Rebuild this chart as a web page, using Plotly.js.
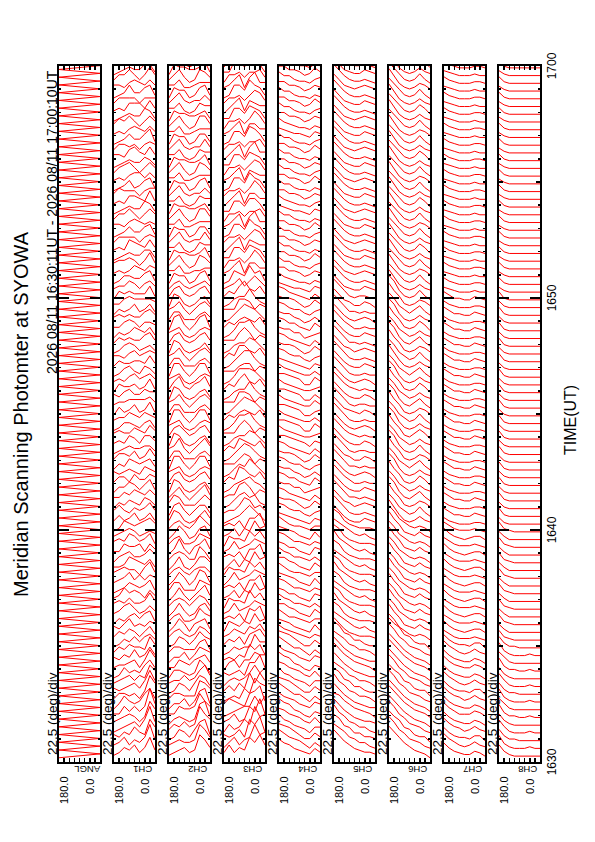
<!DOCTYPE html>
<html>
<head>
<meta charset="utf-8">
<script src="https://cdn.plot.ly/plotly-3.0.1.min.js"></script>
<style>
html,body{margin:0;padding:0;width:595px;height:842px;overflow:hidden;background:#fff}
#wrap{position:absolute;left:0;top:0;width:595px;height:842px;overflow:hidden}
#plot{position:absolute;left:0;top:0;width:842px;height:595px;transform-origin:0 0;transform:translateY(842px) rotate(-90deg)}
</style>
</head>
<body>
<div id="wrap"><div id="plot"></div></div>
<script>
// ---------------- data ----------------
const TITLE = 'Meridian Scanning Photomter at SYOWA';
const PERIOD_TEXT = '2026 08/11 16:30:11UT - 2026 08/11 17:00:10UT';
const PANEL_LABELS = ['ANGL','CH1','CH2','CH3','CH4','CH5','CH6','CH7','CH8'];
const TIME_TICK_VALS = [30,40,50,60];          // minutes after 16:00 UT
const TIME_TICK_TEXT = ['1630','1640','1650','1700'];
const ANGLE_POINTS = [0,22.5,45,67.5,90,112.5,135,157.5,180];   // scan angle (deg)
const SCAN_START_SEC = 11;     // 16:30:11
const SCAN_STEP_SEC = 20;      // one channel profile every 20 s
const ANGL_STEP_SEC = 10;      // one half-sweep of the mirror every 10 s
// scanner angle at each sweep turn-around (alternating direction)
const ANGL = [
180,0,180,0,180,0,180,0,180,0, 180,0,180,0,180,0,180,0,180,0,
180,0,180,0,180,0,180,0,180,0, 180,0,180,0,180,0,180,0,180,0,
180,0,180,0,180,0,180,0,180,0, 180,0,180,0,180,0,180,0,180,0,
180,0,180,0,180,0,180,0,180,0, 180,0,180,0,180,0,180,0,180,0,
180,0,180,0,180,0,180,0,180,0, 180,0,180,0,180,0,180,0,180,0,
180,0,180,0,180,0,180,0,180,0, 180,0,180,0,180,0,180,0,180,0,
180,0,180,0,180,0,180,0,180,0, 180,0,180,0,180,0,180,0,180,0,
180,0,180,0,180,0,180,0,180,0, 180,0,180,0,180,0,180,0,180,0,
180,0,180,0,180,0,180,0,180,0, 180,0,180,0,180,0,180,0,180,0,
180];
// intensity (relative units) for each 20-s profile, at ANGLE_POINTS
const CH1 = [
[3,8,4,2,5,3,4,2,1],[4,10,5,3,4,2,5,3,2],[6,9,3,4,6,3,4,2,3],[5,11,6,3,5,4,3,2,1],[7,10,4,2,4,5,4,3,2],
[6,12,5,3,5,3,5,2,2],[5,9,7,4,3,4,6,3,1],[8,11,5,2,4,3,4,4,2],[6,10,6,3,5,4,3,2,3],[7,9,4,5,3,5,4,3,2],
[5,8,6,3,4,3,5,2,1],[6,9,5,2,5,4,3,3,2],[4,7,4,3,6,3,4,2,3],[5,8,3,4,4,5,3,4,2],[4,6,5,3,5,3,4,2,1],
[3,6,4,2,4,5,3,4,2],[4,5,3,4,3,6,4,2,3],[2,6,5,3,5,4,2,3,1],[3,5,3,2,4,6,5,3,2],[4,7,4,3,3,5,3,4,3],
[3,5,2,4,5,4,6,3,2],[2,6,4,3,4,5,3,2,1],[4,5,3,5,3,6,4,3,2],[3,7,5,2,4,4,5,4,3],[2,5,3,4,5,6,3,2,2],
[4,6,4,3,3,5,4,3,1],[3,5,2,5,4,4,5,2,2],[2,6,4,3,5,6,3,4,3],[3,4,3,2,4,5,4,3,2],[4,6,5,4,3,4,5,2,1],
[2,5,3,2,5,3,2,4,2],[3,6,4,3,4,2,3,5,3],[2,4,5,2,3,4,2,3,1],[3,5,3,4,5,3,4,2,2],[2,6,4,2,4,5,3,3,1],
[4,5,3,3,5,2,4,4,2],[3,4,5,2,3,4,3,2,3],[2,5,4,3,4,5,2,3,1],[3,6,3,2,5,3,4,4,2],[2,4,4,3,3,4,3,2,1],
[3,5,5,2,4,5,2,3,2],[4,6,3,4,5,3,3,4,3],[2,5,4,2,3,4,4,2,1],[3,4,5,3,4,5,3,3,2],[2,6,3,2,5,3,2,4,1],
[3,5,4,4,4,4,3,3,2],[4,4,5,3,3,5,4,2,3],[2,6,3,2,4,3,3,4,1],[3,5,4,3,5,4,2,3,2],[2,4,5,2,3,5,4,2,1],
[3,6,3,4,4,3,3,4,2],[4,5,4,3,5,4,2,3,3],[2,4,3,2,4,5,4,2,1],[3,6,5,3,3,4,3,4,2],[2,5,3,4,5,3,2,3,1],
[3,4,4,2,4,5,4,2,2],[4,6,5,3,3,4,3,4,3],[2,5,3,2,5,3,2,3,1],[3,4,4,4,4,5,4,2,2],[2,6,3,3,3,4,3,4,1],
[3,5,4,2,4,5,3,3,2],[2,6,5,3,3,4,4,2,1],[4,5,3,4,5,3,2,3,2],[3,7,4,2,4,5,4,4,3],[2,5,5,3,3,4,3,2,1],
[3,6,3,4,5,6,2,3,2],[4,5,4,2,4,4,4,4,2],[2,6,5,3,3,5,3,2,1],[3,4,3,4,5,4,2,3,3],[4,6,4,2,4,6,4,4,2],
[2,5,6,3,3,4,3,2,1],[3,7,3,4,5,5,2,3,2],[5,5,4,2,4,4,4,5,3],[2,6,5,3,2,5,3,2,1],[3,5,3,5,5,4,2,3,2],
[4,6,4,2,4,6,5,4,2],[2,4,5,3,3,4,3,2,1],[3,6,3,4,6,5,2,3,3],[4,5,4,2,4,3,4,4,2],[2,7,5,3,3,5,3,2,1],
[3,5,3,4,5,4,2,3,2],[4,6,4,2,4,6,4,5,3],[2,5,6,3,3,4,3,2,1],[3,6,3,5,5,5,2,3,2],[4,4,4,2,4,4,4,4,2],
[2,6,5,3,3,6,3,2,1],[3,5,3,4,5,4,2,3,3],[4,7,4,2,4,6,4,4,2],[2,5,5,3,3,4,3,2,1],[3,6,3,4,5,5,2,3,2]];
const CH2 = [
[4,7,9,3,2,4,3,2,1],[5,8,10,4,3,3,4,3,2],[3,9,8,5,2,4,5,2,1],[6,8,11,4,3,5,3,4,2],[4,10,9,3,2,3,4,3,1],
[5,7,10,5,4,4,5,2,2],[3,9,8,4,2,5,3,3,1],[6,8,9,3,3,3,4,4,2],[4,7,8,5,2,4,5,2,1],[5,9,7,4,3,5,3,3,2],
[3,6,8,3,2,3,4,4,1],[4,7,6,5,3,4,5,2,2],[5,6,7,4,2,5,3,3,1],[3,7,6,3,3,3,4,4,2],[4,5,7,4,2,4,5,2,1],
[3,5,6,3,2,3,5,4,2],[2,6,5,4,1,4,6,3,1],[4,5,7,3,2,2,5,4,2],[3,6,5,2,1,3,6,3,1],[2,5,6,4,2,4,5,4,2],
[3,7,5,3,1,3,6,3,1],[4,5,6,2,2,2,5,5,2],[2,6,7,3,1,4,6,3,1],[3,5,5,4,2,3,5,4,2],[4,6,6,3,1,2,6,3,1],
[2,5,7,2,2,4,5,4,2],[3,7,5,4,1,3,7,3,1],[4,5,6,3,2,2,5,4,2],[2,6,5,2,1,4,6,3,1],[3,5,7,4,2,3,5,4,2],
[3,6,4,2,1,2,5,6,2],[2,5,5,3,1,3,6,5,1],[4,6,4,2,2,2,5,6,3],[3,7,5,3,1,3,6,4,2],[2,5,4,2,1,2,5,6,1],
[3,6,5,3,2,3,6,5,2],[4,5,4,2,1,2,5,4,3],[2,6,6,3,1,3,6,6,1],[3,5,4,2,2,2,5,5,2],[4,7,5,3,1,3,7,4,3],
[2,5,4,2,1,2,5,6,1],[3,6,5,3,2,4,6,5,2],[4,5,4,2,1,2,5,4,3],[2,6,6,3,1,3,6,6,1],[3,5,4,2,2,2,5,5,2],
[4,6,5,3,1,3,6,4,3],[2,5,4,2,1,2,5,6,1],[3,7,5,4,2,3,7,5,2],[4,5,4,2,1,2,5,4,3],[2,6,6,3,1,3,6,6,1],
[3,5,4,2,2,2,5,5,2],[4,6,5,3,1,3,6,4,3],[2,5,3,2,1,2,5,6,1],[3,6,5,3,2,3,6,5,2],[4,5,4,2,1,2,5,4,3],
[2,7,6,3,1,3,7,6,1],[3,5,4,2,2,2,5,5,2],[4,6,5,3,1,3,6,4,3],[2,5,4,2,1,2,5,6,1],[3,6,5,3,2,3,6,5,2],
[3,5,4,3,2,3,5,4,2],[2,6,5,2,1,4,4,5,1],[4,4,3,3,2,2,5,3,3],[3,5,6,2,1,3,6,4,2],[2,6,4,3,3,4,4,5,1],
[4,4,5,2,1,2,5,3,3],[3,6,3,3,2,3,6,4,2],[2,5,5,2,1,4,4,5,1],[4,4,4,3,2,2,5,3,3],[3,6,6,2,1,3,6,4,2],
[2,5,4,3,3,4,4,5,1],[4,4,5,2,1,2,5,3,3],[3,5,3,3,2,3,6,4,2],[2,6,5,2,1,4,4,5,1],[4,4,4,3,2,2,5,3,3],
[3,5,6,2,1,3,6,4,2],[2,6,4,3,3,4,4,5,1],[4,4,5,2,1,2,5,3,3],[3,6,3,3,2,3,6,4,2],[2,5,5,2,1,4,4,5,1],
[4,4,4,3,2,2,5,3,3],[3,6,6,2,1,3,6,4,2],[2,5,4,3,3,4,4,5,1],[4,4,5,2,1,2,5,3,3],[3,5,3,3,2,3,6,4,2],
[2,6,5,2,1,4,4,5,1],[4,4,4,3,2,2,5,3,3],[3,5,6,2,1,3,6,4,2],[2,6,4,3,3,4,4,5,1],[4,4,5,2,1,2,5,3,3]];
const CH3 = [
[5,9,6,8,3,4,2,5,2],[7,6,10,5,4,2,5,3,1],[4,10,7,9,2,5,3,2,3],[8,7,11,4,6,3,2,4,1],[5,11,6,8,3,2,5,3,2],
[9,6,9,5,5,4,3,2,1],[4,10,8,7,2,3,4,5,3],[7,8,10,4,6,2,3,2,1],[6,9,5,9,3,5,2,4,2],[8,6,9,6,4,3,4,3,1],
[5,10,7,7,2,4,3,2,3],[7,7,8,5,5,2,5,4,1],[4,8,6,8,3,4,2,3,2],[6,6,9,4,4,3,4,2,1],[5,8,7,6,2,5,3,4,2],
[4,7,5,6,3,4,5,3,2],[6,5,8,4,5,3,4,5,1],[3,8,6,7,2,5,3,4,3],[5,6,7,5,4,3,6,3,2],[4,7,5,8,3,4,4,5,1],
[6,5,8,4,5,2,5,3,2],[3,8,6,6,2,5,3,4,3],[5,6,7,5,4,3,6,3,1],[4,7,5,7,3,4,4,5,2],[6,5,8,4,5,2,5,3,1],
[3,8,6,6,2,5,3,4,3],[5,6,7,5,4,3,6,3,2],[4,7,5,7,3,4,4,5,1],[6,5,8,4,5,2,5,3,2],[3,8,6,6,2,5,3,4,3],
[2,4,6,8,6,4,3,2,1],[3,5,4,7,8,5,3,3,2],[2,3,6,5,7,6,4,2,1],[4,5,3,6,8,7,3,3,2],[2,4,5,7,6,5,4,2,1],
[3,6,4,5,7,8,3,4,2],[2,4,6,8,5,6,4,2,1],[4,5,3,6,7,5,3,3,3],[2,3,5,7,8,6,4,2,1],[3,6,4,5,6,7,3,4,2],
[2,4,6,7,5,5,4,2,1],[4,5,3,6,8,6,3,3,3],[2,3,5,8,7,7,4,2,1],[3,6,4,5,6,5,3,4,2],[2,4,6,7,8,6,4,2,1],
[4,5,3,6,7,7,3,3,3],[2,3,5,8,5,5,4,2,1],[3,6,4,5,8,6,3,4,2],[2,4,6,7,7,7,4,2,1],[4,5,3,6,6,5,3,3,3],
[2,3,5,8,8,6,4,2,1],[3,6,4,5,7,7,3,4,2],[2,4,6,7,5,5,4,2,1],[4,5,3,6,8,6,3,3,3],[2,3,5,8,7,7,4,2,1],
[3,6,4,5,6,5,3,4,2],[2,4,6,7,8,6,4,2,1],[4,5,3,6,7,7,3,3,3],[2,3,5,8,5,5,4,2,1],[3,6,4,5,8,6,3,4,2],
[3,5,7,5,3,6,4,3,2],[2,6,5,8,4,5,6,2,1],[4,4,6,6,2,7,5,3,2],[3,6,8,5,3,5,4,4,1],[2,5,6,7,4,6,6,2,2],
[4,4,5,6,2,7,5,3,1],[3,6,7,5,3,5,4,4,2],[2,5,6,8,4,6,6,2,1],[4,4,8,6,2,7,5,3,2],[3,6,5,5,3,5,4,4,1],
[2,5,7,7,4,6,6,2,2],[4,4,6,6,2,7,5,3,1],[3,6,8,5,3,5,4,4,2],[2,5,6,8,4,6,6,2,1],[4,4,5,6,2,7,5,3,2],
[3,6,7,5,3,5,4,4,1],[2,5,6,7,4,6,6,2,2],[4,4,8,6,2,7,5,3,1],[3,6,5,5,3,5,4,4,2],[2,5,7,8,4,6,6,2,1],
[4,4,6,6,2,7,5,3,2],[3,6,8,5,3,5,4,4,1],[2,5,6,7,4,6,6,2,2],[4,4,5,6,2,7,5,3,1],[3,6,7,5,3,5,4,4,2],
[2,5,6,8,4,6,6,2,1],[4,4,8,6,2,7,5,3,2],[3,6,5,5,3,5,4,4,1],[2,5,7,7,4,6,6,2,2],[4,4,6,6,2,7,5,3,1]];
const CH4 = [
[3,5,2,3,4,5,7,8,10],[2,4,1,3,5,6,7,9,11],[3,5,2,2,4,6,8,9,10],[4,4,1,3,4,5,7,8,11],[2,5,2,3,5,6,7,9,10],
[3,4,1,2,4,5,8,9,11],[4,5,2,3,4,6,7,8,10],[2,4,1,3,5,5,7,9,11],[3,5,2,2,4,6,8,9,10],[4,4,1,3,4,5,7,8,11],
[2,5,2,3,5,6,7,9,10],[3,4,1,2,4,5,8,9,11],[4,5,2,3,4,6,7,8,10],[2,4,1,3,5,5,7,9,11],[3,5,2,2,4,6,8,9,10],
[3,4,2,3,4,5,6,7,9],[2,5,1,2,3,4,6,7,8],[4,4,2,3,4,5,5,7,9],[3,5,1,2,3,5,6,8,8],[2,4,2,3,4,4,6,7,9],
[4,5,1,2,3,5,5,7,8],[3,4,2,3,4,4,6,8,9],[2,5,1,2,3,5,6,7,8],[4,4,2,3,4,4,5,7,9],[3,5,1,2,3,5,6,8,8],
[2,4,2,3,4,4,6,7,9],[4,5,1,2,3,5,5,7,8],[3,4,2,3,4,4,6,8,9],[2,5,1,2,3,5,6,7,8],[4,4,2,3,4,4,5,7,9],
[3,4,1,2,3,4,5,6,7],[4,3,1,2,4,4,5,7,8],[3,5,2,1,3,5,6,6,7],[2,4,1,2,3,4,5,7,8],[4,3,2,1,4,4,6,6,7],
[3,5,1,2,3,5,5,7,8],[2,4,2,1,3,4,6,6,7],[4,3,1,2,4,4,5,7,8],[3,5,2,1,3,5,6,6,7],[2,4,1,2,3,4,5,7,8],
[3,4,1,3,4,5,6,7,7],[4,3,2,2,3,4,5,6,8],[3,5,1,1,4,5,6,7,7],[2,4,2,2,3,4,5,6,8],[4,3,1,1,4,5,6,7,7],
[3,5,2,2,3,4,5,6,8],[2,4,1,1,4,5,6,7,7],[4,3,2,2,3,4,5,6,8],[3,5,1,1,4,5,6,7,7],[2,4,2,2,3,4,5,6,8],
[3,4,1,2,3,4,5,6,7],[4,3,1,2,4,4,5,7,8],[3,5,2,1,3,5,6,6,7],[2,4,1,2,3,4,5,7,8],[4,3,2,1,4,4,6,6,7],
[3,5,1,2,3,5,5,7,8],[2,4,2,1,3,4,6,6,7],[4,3,1,2,4,4,5,7,8],[3,5,2,1,3,5,6,6,7],[2,4,1,2,3,4,5,7,8],
[3,4,1,2,3,3,4,5,6],[2,3,1,2,2,3,4,5,7],[3,4,2,1,3,4,4,6,6],[4,3,1,2,2,3,5,5,7],[3,5,2,1,3,4,4,6,6],
[2,3,1,2,2,3,5,5,7],[3,4,2,1,3,4,4,6,6],[4,3,1,2,2,3,5,5,7],[3,5,2,1,3,4,4,6,6],[2,3,1,2,2,3,5,5,7],
[3,4,1,2,3,3,4,5,6],[4,3,1,2,2,3,4,5,7],[3,4,2,1,3,4,4,6,6],[2,3,1,2,2,3,5,5,7],[3,5,2,1,3,4,4,6,6],
[4,3,1,2,2,3,5,5,7],[3,4,2,1,3,4,4,6,6],[2,3,1,2,2,3,5,5,7],[3,5,2,1,3,4,4,6,6],[4,3,1,2,2,3,5,5,7],
[3,4,1,2,3,3,4,5,6],[2,3,1,2,2,3,4,5,7],[3,4,2,1,3,4,4,6,6],[4,3,1,2,2,3,5,5,7],[3,5,2,1,3,4,4,6,6],
[2,3,1,2,2,3,5,5,7],[3,4,2,1,3,4,4,6,6],[4,3,1,2,2,3,5,5,7],[3,5,2,1,3,4,4,6,6],[2,3,1,2,2,3,5,5,7]];
const CH5 = [
[2,3,3,4,5,7,9,12,15],[1,2,4,4,6,7,10,12,14],[2,3,3,5,5,8,9,13,15],[1,2,4,4,6,7,10,12,16],[2,3,3,4,5,7,9,12,15],
[1,3,4,5,6,8,10,13,14],[2,2,3,4,5,7,9,12,15],[1,3,4,4,6,7,10,12,16],[2,2,3,5,5,8,9,13,15],[1,3,4,4,6,7,10,12,14],
[2,2,3,4,5,7,9,12,15],[1,3,4,5,6,8,10,13,16],[2,2,3,4,5,7,9,12,15],[1,3,4,4,6,7,10,12,14],[2,2,3,5,5,8,9,13,15],
[2,3,3,3,4,5,7,10,13],[1,2,4,3,4,6,8,10,12],[2,3,3,3,4,5,7,11,13],[1,2,4,3,4,6,8,10,14],[2,3,3,3,4,5,7,11,13],
[1,2,4,3,4,6,8,10,12],[2,3,3,3,4,5,7,11,13],[1,2,4,3,4,6,8,10,14],[2,3,3,3,4,5,7,11,13],[1,2,4,3,4,6,8,10,12],
[2,3,3,3,4,5,7,11,13],[1,2,4,3,4,6,8,10,14],[2,3,3,3,4,5,7,11,13],[1,2,4,3,4,6,8,10,12],[2,3,3,3,4,5,7,11,13],
[2,3,4,2,2,3,5,8,11],[1,2,3,2,2,3,6,9,12],[2,3,4,3,2,4,5,8,11],[1,2,3,2,3,3,6,9,12],[2,3,4,2,2,3,5,8,11],
[2,2,3,2,2,4,6,9,12],[1,3,4,3,2,3,5,8,11],[2,2,3,2,3,3,6,9,12],[1,3,4,2,2,4,5,8,11],[2,2,3,3,2,3,6,9,12],
[1,3,4,2,2,3,5,8,11],[2,2,3,2,3,4,6,9,12],[1,3,4,3,2,3,5,8,11],[2,2,3,2,2,3,6,9,12],[1,3,4,2,3,4,5,8,11],
[2,2,3,3,2,3,6,9,12],[1,3,4,2,2,3,5,8,11],[2,2,3,2,3,4,6,9,12],[1,3,4,3,2,3,5,8,11],[2,2,3,2,2,3,6,9,12],
[2,3,4,2,2,3,5,8,11],[1,2,3,2,2,3,6,9,12],[2,3,4,3,2,4,5,8,11],[1,2,3,2,3,3,6,9,12],[2,3,4,2,2,3,5,8,11],
[2,2,3,2,2,4,6,9,12],[1,3,4,3,2,3,5,8,11],[2,2,3,2,3,3,6,9,12],[1,3,4,2,2,4,5,8,11],[2,2,3,3,2,3,6,9,12],
[2,3,4,2,2,3,4,7,10],[1,2,3,2,2,3,5,8,11],[2,3,4,3,2,3,4,7,10],[1,2,3,2,2,3,5,8,11],[2,3,4,2,2,3,4,7,10],
[1,2,3,2,2,3,5,8,11],[2,3,4,3,2,3,4,7,10],[1,2,3,2,2,3,5,8,11],[2,3,4,2,2,3,4,7,10],[1,2,3,2,2,3,5,8,11],
[2,3,4,3,2,3,4,7,10],[1,2,3,2,2,3,5,8,11],[2,3,4,2,2,3,4,7,10],[1,2,3,2,2,3,5,8,11],[2,3,4,3,2,3,4,7,10],
[1,2,3,2,2,3,5,8,11],[2,3,4,2,2,3,4,7,10],[1,2,3,2,2,3,5,8,11],[2,3,4,3,2,3,4,7,10],[1,2,3,2,2,3,5,8,11],
[2,3,4,2,2,3,4,7,10],[1,2,3,2,2,3,5,8,11],[2,3,4,3,2,3,4,7,10],[1,2,3,2,2,3,5,8,11],[2,3,4,2,2,3,4,7,10],
[1,2,3,2,2,3,5,8,11],[2,3,4,3,2,3,4,7,10],[1,2,3,2,2,3,5,8,11],[2,3,4,2,2,3,4,7,10],[1,2,3,2,2,3,5,8,11]];
const CH6 = [
[0,2,3,4,6,8,11,14,17],[1,2,4,5,6,9,11,15,18],[0,3,3,4,7,8,12,14,17],[1,2,4,5,6,9,11,15,18],[0,2,3,4,6,8,11,14,17],
[1,3,4,5,7,9,12,15,18],[0,2,3,4,6,8,11,14,17],[1,2,4,5,6,9,11,15,18],[0,3,3,4,7,8,12,14,17],[1,2,4,5,6,9,11,15,18],
[0,2,3,4,6,8,11,14,17],[1,3,4,5,7,9,12,15,18],[0,2,3,4,6,8,11,14,17],[1,2,4,5,6,9,11,15,18],[0,3,3,4,7,8,12,14,17],
[1,3,4,3,4,6,8,12,15],[2,3,5,3,4,5,9,12,16],[1,3,4,3,4,6,8,12,15],[2,3,5,3,4,5,9,12,16],[1,3,4,3,4,6,8,12,15],
[2,3,5,3,4,5,9,12,16],[1,3,4,3,4,6,8,12,15],[2,3,5,3,4,5,9,12,16],[1,3,4,3,4,6,8,12,15],[2,3,5,3,4,5,9,12,16],
[1,3,4,3,4,6,8,12,15],[2,3,5,3,4,5,9,12,16],[1,3,4,3,4,6,8,12,15],[2,3,5,3,4,5,9,12,16],[1,3,4,3,4,6,8,12,15],
[2,3,5,3,2,3,6,10,14],[1,3,6,3,2,4,6,10,13],[2,4,5,3,2,3,7,10,14],[1,3,6,4,2,3,6,11,14],[2,3,5,3,2,4,6,10,13],
[1,4,6,3,2,3,7,10,14],[2,3,5,3,2,3,6,11,14],[1,3,6,4,2,4,6,10,13],[2,4,5,3,2,3,7,10,14],[1,3,6,3,2,3,6,11,14],
[2,3,5,3,2,4,6,10,13],[1,4,6,4,2,3,7,10,14],[2,3,5,3,2,3,6,11,14],[1,3,6,3,2,4,6,10,13],[2,4,5,3,2,3,7,10,14],
[1,3,6,4,2,3,6,11,14],[2,3,5,3,2,4,6,10,13],[1,4,6,3,2,3,7,10,14],[2,3,5,3,2,3,6,11,14],[1,3,6,4,2,4,6,10,13],
[2,3,5,3,2,3,6,10,14],[1,3,6,3,2,4,6,10,13],[2,4,5,3,2,3,7,10,14],[1,3,6,4,2,3,6,11,14],[2,3,5,3,2,4,6,10,13],
[1,4,6,3,2,3,7,10,14],[2,3,5,3,2,3,6,11,14],[1,3,6,4,2,4,6,10,13],[2,4,5,3,2,3,7,10,14],[1,3,6,3,2,3,6,11,14],
[2,3,5,3,2,3,5,9,13],[1,3,6,3,2,3,6,9,12],[2,4,5,3,2,3,5,9,13],[1,3,6,3,2,3,6,9,12],[2,3,5,3,2,3,5,9,13],
[1,4,6,3,2,3,6,9,12],[2,3,5,3,2,3,5,9,13],[1,3,6,3,2,3,6,9,12],[2,4,5,3,2,3,5,9,13],[1,3,6,3,2,3,6,9,12],
[2,3,5,3,2,3,5,9,13],[1,4,6,3,2,3,6,9,12],[2,3,5,3,2,3,5,9,13],[1,3,6,3,2,3,6,9,12],[2,4,5,3,2,3,5,9,13],
[1,3,6,3,2,3,6,9,12],[2,3,5,3,2,3,5,9,13],[1,4,6,3,2,3,6,9,12],[2,3,5,3,2,3,5,9,13],[1,3,6,3,2,3,6,9,12],
[2,4,5,3,2,3,5,9,13],[1,3,6,3,2,3,6,9,12],[2,3,5,3,2,3,5,9,13],[1,4,6,3,2,3,6,9,12],[2,3,5,3,2,3,5,9,13],
[1,3,6,3,2,3,6,9,12],[2,4,5,3,2,3,5,9,13],[1,3,6,3,2,3,6,9,12],[2,3,5,3,2,3,5,9,13],[1,4,6,3,2,3,6,9,12]];
const CH7 = [
[1,3,4,2,2,3,4,6,9],[2,3,5,3,2,3,5,7,10],[1,4,4,2,3,3,4,6,9],[2,3,5,3,2,4,5,7,10],[1,3,4,2,2,3,4,6,9],
[2,4,5,3,3,3,5,7,10],[1,3,4,2,2,3,4,6,9],[2,3,5,3,2,4,5,7,10],[1,4,4,2,3,3,4,6,9],[2,3,5,3,2,3,5,7,10],
[1,3,4,2,2,3,4,6,9],[2,4,5,3,3,4,5,7,10],[1,3,4,2,2,3,4,6,9],[2,3,5,3,2,3,5,7,10],[1,4,4,2,3,3,4,6,9],
[1,2,3,2,2,2,3,5,7],[1,3,3,2,1,2,3,5,8],[1,2,3,2,2,2,3,5,7],[1,3,3,2,1,2,3,5,8],[1,2,3,2,2,2,3,5,7],
[1,3,3,2,1,2,3,5,8],[1,2,3,2,2,2,3,5,7],[1,3,3,2,1,2,3,5,8],[1,2,3,2,2,2,3,5,7],[1,3,3,2,1,2,3,5,8],
[1,2,3,2,2,2,3,5,7],[1,3,3,2,1,2,3,5,8],[1,2,3,2,2,2,3,5,7],[1,3,3,2,1,2,3,5,8],[1,2,3,2,2,2,3,5,7],
[1,2,2,1,1,1,2,3,5],[1,2,3,1,1,2,2,4,6],[1,2,2,1,1,1,2,3,5],[1,2,3,1,1,2,2,4,6],[1,2,2,1,1,1,2,3,5],
[1,2,3,1,1,2,2,4,6],[1,2,2,1,1,1,2,3,5],[1,2,3,1,1,2,2,4,6],[1,2,2,1,1,1,2,3,5],[1,2,3,1,1,2,2,4,6],
[1,2,2,1,1,1,2,3,5],[1,2,3,1,1,2,2,4,6],[1,2,2,1,1,1,2,3,5],[1,2,3,1,1,2,2,4,6],[1,2,2,1,1,1,2,3,5],
[1,2,3,1,1,2,2,4,6],[1,2,2,1,1,1,2,3,5],[1,2,3,1,1,2,2,4,6],[1,2,2,1,1,1,2,3,5],[1,2,3,1,1,2,2,4,6],
[1,2,2,1,1,1,2,3,5],[1,2,3,1,1,2,2,4,6],[1,2,2,1,1,1,2,3,5],[1,2,3,1,1,2,2,4,6],[1,2,2,1,1,1,2,3,5],
[1,2,3,1,1,2,2,4,6],[1,2,2,1,1,1,2,3,5],[1,2,3,1,1,2,2,4,6],[1,2,2,1,1,1,2,3,5],[1,2,3,1,1,2,2,4,6],
[1,1,2,1,1,1,2,3,4],[1,2,2,1,1,1,2,3,5],[1,1,2,1,1,1,2,3,4],[1,2,2,1,1,1,2,3,5],[1,1,2,1,1,1,2,3,4],
[1,2,2,1,1,1,2,3,5],[1,1,2,1,1,1,2,3,4],[1,2,2,1,1,1,2,3,5],[1,1,2,1,1,1,2,3,4],[1,2,2,1,1,1,2,3,5],
[1,1,2,1,1,1,2,3,4],[1,2,2,1,1,1,2,3,5],[1,1,2,1,1,1,2,3,4],[1,2,2,1,1,1,2,3,5],[1,1,2,1,1,1,2,3,4],
[1,2,2,1,1,1,2,3,5],[1,1,2,1,1,1,2,3,4],[1,2,2,1,1,1,2,3,5],[1,1,2,1,1,1,2,3,4],[1,2,2,1,1,1,2,3,5],
[1,1,2,1,1,1,2,3,4],[1,2,2,1,1,1,2,3,5],[1,1,2,1,1,1,2,3,4],[1,2,2,1,1,1,2,3,5],[1,1,2,1,1,1,2,3,4],
[1,2,2,1,1,1,2,3,5],[1,1,2,1,1,1,2,3,4],[1,2,2,1,1,1,2,3,5],[1,1,2,1,1,1,2,3,4],[1,2,2,1,1,1,2,3,5]];
const CH8 = [
[1,1,1,1,1,1,2,4,8],[1,1,2,1,1,1,2,4,9],[1,1,1,1,1,2,2,4,8],[1,1,2,1,1,1,2,5,9],[1,1,1,1,1,1,2,4,8],
[1,1,2,1,1,2,2,4,9],[1,1,1,1,1,1,2,5,8],[1,1,2,1,1,1,2,4,9],[1,1,1,1,1,2,2,4,8],[1,1,2,1,1,1,2,5,9],
[1,1,1,1,1,1,2,4,8],[1,1,2,1,1,2,2,4,9],[1,1,1,1,1,1,2,5,8],[1,1,2,1,1,1,2,4,9],[1,1,1,1,1,2,2,4,8],
[1,1,1,1,1,1,2,3,7],[1,1,1,1,1,1,1,3,6],[1,1,1,1,1,1,2,3,7],[1,1,1,1,1,1,1,3,6],[1,1,1,1,1,1,2,3,7],
[1,1,1,1,1,1,1,3,6],[1,1,1,1,1,1,2,3,7],[1,1,1,1,1,1,1,3,6],[1,1,1,1,1,1,2,3,7],[1,1,1,1,1,1,1,3,6],
[1,1,1,1,1,1,2,3,7],[1,1,1,1,1,1,1,3,6],[1,1,1,1,1,1,2,3,7],[1,1,1,1,1,1,1,3,6],[1,1,1,1,1,1,2,3,7],
[1,1,1,1,1,1,1,2,5],[1,1,1,1,1,1,1,2,6],[1,1,1,1,1,1,1,2,5],[1,1,1,1,1,1,1,2,6],[1,1,1,1,1,1,1,2,5],
[1,1,1,1,1,1,1,2,6],[1,1,1,1,1,1,1,2,5],[1,1,1,1,1,1,1,2,6],[1,1,1,1,1,1,1,2,5],[1,1,1,1,1,1,1,2,6],
[1,1,1,1,1,1,1,2,5],[1,1,1,1,1,1,1,2,6],[1,1,1,1,1,1,1,2,5],[1,1,1,1,1,1,1,2,6],[1,1,1,1,1,1,1,2,5],
[1,1,1,1,1,1,1,2,6],[1,1,1,1,1,1,1,2,5],[1,1,1,1,1,1,1,2,6],[1,1,1,1,1,1,1,2,5],[1,1,1,1,1,1,1,2,6],
[1,1,1,1,1,1,1,2,5],[1,1,1,1,1,1,1,2,6],[1,1,1,1,1,1,1,2,5],[1,1,1,1,1,1,1,2,6],[1,1,1,1,1,1,1,2,5],
[1,1,1,1,1,1,1,2,6],[1,1,1,1,1,1,1,2,5],[1,1,1,1,1,1,1,2,6],[1,1,1,1,1,1,1,2,5],[1,1,1,1,1,1,1,2,6],
[1,1,1,1,1,1,1,2,4],[1,1,1,1,1,1,1,2,5],[1,1,1,1,1,1,1,2,4],[1,1,1,1,1,1,1,2,5],[1,1,1,1,1,1,1,2,4],
[1,1,1,1,1,1,1,2,5],[1,1,1,1,1,1,1,2,4],[1,1,1,1,1,1,1,2,5],[1,1,1,1,1,1,1,2,4],[1,1,1,1,1,1,1,2,5],
[1,1,1,1,1,1,1,2,4],[1,1,1,1,1,1,1,2,5],[1,1,1,1,1,1,1,2,4],[1,1,1,1,1,1,1,2,5],[1,1,1,1,1,1,1,2,4],
[1,1,1,1,1,1,1,2,5],[1,1,1,1,1,1,1,2,4],[1,1,1,1,1,1,1,2,5],[1,1,1,1,1,1,1,2,4],[1,1,1,1,1,1,1,2,5],
[1,1,1,1,1,1,1,2,4],[1,1,1,1,1,1,1,2,5],[1,1,1,1,1,1,1,2,4],[1,1,1,1,1,1,1,2,5],[1,1,1,1,1,1,1,2,4],
[1,1,1,1,1,1,1,2,5],[1,1,1,1,1,1,1,2,4],[1,1,1,1,1,1,1,2,5],[1,1,1,1,1,1,1,2,4],[1,1,1,1,1,1,1,2,5]];
const CHANNELS = [CH1,CH2,CH3,CH4,CH5,CH6,CH7,CH8];
// display scale: minutes of time-axis offset per intensity unit
const CH_SCALE = [0.11,0.11,0.11,0.08,0.08,0.08,0.07,0.07];

// ---------------- layout geometry (landscape frame, rotated by CSS) ----------------
const W = 842, H = 595;
const X0 = 80, X1 = 776;            // time axis pixels
const TOP0 = 59, PITCH = 55, PH = 41; // panel top / pitch / height
const FONT = 'Liberation Sans, Arial, Helvetica, sans-serif';
const RED = '#ff0000';

function scanTime(i){ return 30 + (SCAN_START_SEC + SCAN_STEP_SEC*i)/60; }
function anglTime(i){ return 30 + (SCAN_START_SEC + ANGL_STEP_SEC*i)/60; }
function ax(p){ return p===0 ? '' : String(p+1); }

const traces = [];
// ANGL panel
traces.push({x: ANGL.map((a,i)=>anglTime(i)), y: ANGL, xaxis:'x', yaxis:'y',
  mode:'lines', line:{color:RED, width:1}, hoverinfo:'skip'});
// channel panels
CHANNELS.forEach((rows,c)=>{
  const xs=[], ys=[];
  rows.forEach((row,i)=>{
    const t = scanTime(i);
    row.forEach((v,j)=>{ xs.push(t + CH_SCALE[c]*v); ys.push(ANGLE_POINTS[j]); });
    xs.push(null); ys.push(null);
  });
  const p = c+1;
  traces.push({x:xs, y:ys, xaxis:'x'+ax(p), yaxis:'y'+ax(p), mode:'lines',
    line:{color:RED, width:1}, connectgaps:false, hoverinfo:'skip'});
});

const layout = {
  width: W, height: H, margin:{l:0,r:0,t:0,b:0},
  paper_bgcolor:'#fff', plot_bgcolor:'#fff', showlegend:false,
  font:{family:FONT, color:'#000'},
  annotations:[]
};
const xd = [X0/W, X1/W];
for(let p=0;p<9;p++){
  const top = TOP0 + PITCH*p, bot = top + PH;
  const yd = [1-bot/H, 1-top/H];
  const last = (p===8);
  layout['xaxis'+ax(p)] = {
    domain:xd, range:[30,60], anchor:'y'+ax(p), showgrid:false, zeroline:false,
    showline:true, linecolor:'#000', linewidth:2, mirror:'ticks',
    ticks:'inside', ticklen:4, tickwidth:1.5, tickcolor:'#000',
    tickmode:'array', tickvals:[30,35,40,45,50,55,60],
    ticktext: last ? ['1630','','1640','','1650','','1700'] : ['','','','','','',''],
    showticklabels:last, tickfont:{size:12, family:FONT, color:'#000'},
    minor:{tickmode:'linear', tick0:30, dtick:1, ticks:'inside', ticklen:2, tickwidth:1.5, tickcolor:'#000', showgrid:false}
  };
  // long 10-minute ticks
  layout['xaxis'+(10+p)] = {
    domain:xd, range:[30,60], anchor:'y'+ax(p), overlaying:'x'+ax(p),
    showgrid:false, zeroline:false, showline:false, mirror:'ticks',
    ticks:'inside', ticklen:10, tickwidth:1.5, tickcolor:'#000',
    tickmode:'array', tickvals:TIME_TICK_VALS, showticklabels:false
  };
  traces.push({x:[null], y:[null], xaxis:'x'+(10+p), yaxis:'y'+ax(p), mode:'lines', hoverinfo:'skip', showlegend:false});
  layout['yaxis'+ax(p)] = {
    domain:yd, range:[0,180], anchor:'x'+ax(p), showgrid:false, zeroline:false,
    showline:true, linecolor:'#000', linewidth:2, mirror:'ticks',
    ticks:'inside', ticklen:4, tickwidth:1.5, tickcolor:'#000',
    tickmode:'array', tickvals:[22.5,45,67.5,90,112.5,135,157.5], showticklabels:false
  };
  const yr = 'y'+ax(p)+' domain';
  layout.annotations.push(
    {text:'22.5 (deg)/div', xref:'paper', x:85/W, xanchor:'left', yref:yr, y:1, yanchor:'bottom', yshift:-3,
     showarrow:false, font:{size:13.5, family:FONT, color:'#000'}},
    {text:'180.0', xref:'paper', x:68/W, xanchor:'right', yref:yr, y:0.89, yanchor:'middle',
     showarrow:false, font:{size:11, family:FONT, color:'#000'}},
    {text:'0.0', xref:'paper', x:65/W, xanchor:'right', yref:yr, y:0.24, yanchor:'middle',
     showarrow:false, font:{size:11, family:FONT, color:'#000'}},
    {text:PANEL_LABELS[p], xref:'paper', x:72.5/W, xanchor:'center', yref:yr, y:0.3, yanchor:'middle',
     textangle:-90, showarrow:false, font:{size:9.5, family:FONT, color:'#000'}}
  );
}
layout.annotations.push(
  {text:PERIOD_TEXT, xref:'paper', x:774/W, xanchor:'right', yref:'y domain', y:1, yanchor:'bottom', yshift:-3,
   showarrow:false, font:{size:14, family:FONT, color:'#000'}},
  {text:TITLE, xref:'paper', x:428/W, xanchor:'center', yref:'paper', y:1-21/H, yanchor:'middle',
   showarrow:false, font:{size:20, family:FONT, color:'#000'}},
  {text:'TIME(UT)', xref:'paper', x:422/W, xanchor:'center', yref:'paper', y:1-570/H, yanchor:'middle',
   showarrow:false, font:{size:16, family:FONT, color:'#000'}}
);

Plotly.newPlot('plot', traces, layout, {staticPlot:true, displayModeBar:false});
</script>
</body>
</html>
